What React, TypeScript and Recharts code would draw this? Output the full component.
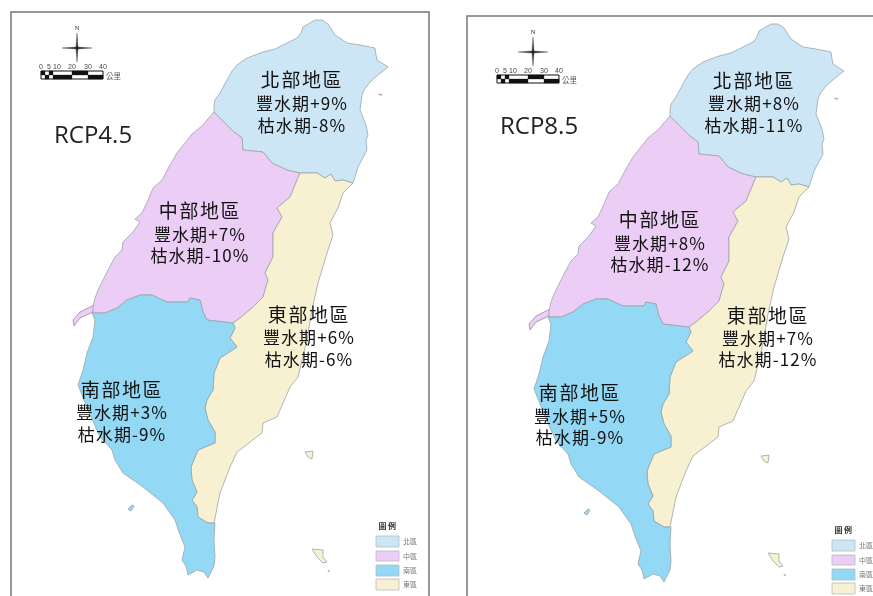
// Two RCP panels of the Taiwan water-resource map, each outline drawn as a
// Scatter whose joint line is closed into a filled polygon by the axis scales.
import { Scatter, ScatterChart, XAxis, YAxis } from "recharts"

type Pt = { x: number; y: number }
const pts = (list: number[][]): Pt[] => list.map(([x, y]) => ({ x, y }))

const NORTH_BORDER = [[300,173],[287,170],[272,163],[263,152],[243,150],[242,138],[234,132],[227,125],[214,112]]
const EAST_NORTH_BORDER = [[353,183],[343,180],[335,181],[331,174],[325,178],[317,173]]
const NORTH_COAST = [[214,106],[215,100],[220,93],[227,80],[232,71],[237,65],[247,58],[263,52],[275,49],[283,45],[297,38],[301,33],[303,27],[315,20],[322,20],[328,24],[335,35],[347,43],[360,45],[375,48],[376,55],[377,60],[388,67],[378,75],[370,82],[364,90],[362,95],[360,110],[366,125],[368,135],[366,140],[367,150],[358,167]]
const WEST_COAST_CENTRAL = [[207,120],[203,125],[192,134],[185,143],[177,153],[170,165],[162,180],[153,188],[149,198],[142,213],[135,219],[140,222],[133,232],[123,242],[122,250],[115,257],[108,270],[103,280],[98,290],[95,298],[93,307],[93,313]]
const CENTRAL_SOUTH_BORDER = [[105,313],[117,308],[127,300],[140,295],[152,295],[167,302],[188,302],[190,298],[200,300],[203,312],[207,320],[233,323]]
const CENTRAL_EAST_BORDER = [[240,318],[253,307],[263,297],[268,280],[265,273],[273,257],[273,233],[282,217],[277,208],[290,197]]
const EAST_COAST = [[343,193],[338,208],[330,223],[333,235],[327,253],[318,283],[312,310],[307,340],[298,377],[290,387],[277,417],[263,423],[262,433],[237,452],[230,467],[220,493],[214,523]]
const EAST_SOUTH_BORDER = [[208,523],[198,517],[197,507],[192,500],[197,492],[192,480],[191,467],[198,450],[215,443],[215,432],[208,420],[205,408],[207,400],[213,390],[214,373],[220,358],[237,347],[230,338],[235,328]]
const SOUTH_COAST = [[215,523],[214,540],[215,557],[214,566],[208,578],[204,572],[197,570],[188,575],[186,566],[182,560],[185,547],[179,532],[175,520],[163,503],[143,487],[123,473],[115,460],[112,450],[100,437],[88,410],[78,385],[83,370],[87,353],[93,337],[95,320],[92,313]]

const NORTH = pts([[214,112], ...NORTH_COAST, ...EAST_NORTH_BORDER, ...NORTH_BORDER])
const CENTRAL = pts([[214,112], ...WEST_COAST_CENTRAL, ...CENTRAL_SOUTH_BORDER, ...CENTRAL_EAST_BORDER, ...NORTH_BORDER])
const EAST = pts([[300,173], ...[...EAST_NORTH_BORDER].reverse(), ...EAST_COAST, ...EAST_SOUTH_BORDER, [233,323], ...CENTRAL_EAST_BORDER])
const SOUTH = pts([[93,313], ...CENTRAL_SOUTH_BORDER, ...[...EAST_SOUTH_BORDER].reverse(), ...SOUTH_COAST])
const PENINSULA = pts([[94,305],[80,312],[73,320],[74,326],[80,318],[93,312]])
const LIUQIU = pts([[128,509],[132,505],[134,506],[131,511]])
const GREEN_ISLAND = pts([[305,452],[313,451],[312,459],[308,457]])
const ORCHID_ISLAND = pts([[312,549],[323,550],[323,557],[327,562],[323,563],[317,557]])
const TINY_ISLETS = [pts([[378,94],[382,94],[381,96]]), pts([[328,570],[330,571],[328,572]])]

const FRAME = pts([[11,600],[11,12],[429,12],[429,600]])
const COMPASS = pts([[77,33],[78,47],[92,48],[78,49],[77,62],[76,49],[62,48],[76,47]])
const SCALE_DARK = [
  pts([[41,71],[45,71],[45,75],[41,75]]),
  pts([[49,71],[53,71],[53,75],[49,75]]),
  pts([[45,75],[49,75],[49,79],[45,79]]),
  pts([[53,75],[57,75],[57,79],[53,79]]),
  pts([[57,75],[72,75],[72,79],[57,79]]),
  pts([[72,71],[88,71],[88,75],[72,75]]),
  pts([[88,75],[103,75],[103,79],[88,79]]),
]
const SCALE_BOX = pts([[41,71],[103,71],[103,79],[41,79]])
const SCALE_TICKS = ["0", "5", "10", "20", "30", "40"]
const SCALE_TICK_X = [41, 49, 57, 72, 88, 103]

const REGIONS = ["北部地區", "中部地區", "東部地區", "南部地區"]
const LEGEND_NAMES = ["北區", "中區", "南區", "東區"]
const RCP45_WET = [9, 7, 6, 3]
const RCP45_DRY = [-8, -10, -6, -9]
const RCP85_WET = [8, 8, 7, 5]
const RCP85_DRY = [-11, -12, -12, -9]

const RCP45_ANCHORS = [[302,78,102,124],[200,209,233,254],[309,313,336,358],[122,388,411,433]]
const RCP85_ANCHORS = [[298,75,98,120],[204,214,238,259],[312,310,333,354],[124,387,411,432]]

const LEGEND_BOXES = [
  pts([[376,536],[399,536],[399,547],[376,547]]),
  pts([[376,551],[399,551],[399,561],[376,561]]),
  pts([[376,565],[399,565],[399,576],[376,576]]),
  pts([[376,579],[399,579],[399,590],[376,590]]),
]
const LEGEND_Y = [541, 556, 570, 584]

const COLOR = { north: "#cde6f6", central: "#ebcdf5", south: "#93d8f4", east: "#f7f1d2" }
const LEGEND_COLORS = [COLOR.north, COLOR.central, COLOR.south, COLOR.east]
const COAST = "#9aa5aa"
const CJK = "'Noto Sans CJK TC', sans-serif"

const polygon = (fill: string, stroke = COAST, strokeWidth = 0.8) => (p: any) => (
  <polygon
    points={p.points.map((q: Pt) => `${q.x},${q.y}`).join(" ")}
    fill={fill}
    stroke={stroke}
    strokeWidth={strokeWidth}
    strokeLinejoin="round"
  />
)
const openLine = (stroke: string, strokeWidth: number) => (p: any) => (
  <polyline
    points={p.points.map((q: Pt) => `${q.x},${q.y}`).join(" ")}
    fill="none"
    stroke={stroke}
    strokeWidth={strokeWidth}
  />
)
const noDot = () => null

const textShape = (p: any) => {
  const d = p.payload
  return (
    <text
      x={p.cx}
      y={p.cy}
      textAnchor={d.anchor ?? "middle"}
      dominantBaseline="central"
      fontFamily={d.font ?? CJK}
      fontSize={d.size}
      fill={d.color ?? "#111"}
      fontWeight={d.weight ?? 400}
      letterSpacing={d.spacing ?? 0}
    >
      {d.text}
    </text>
  )
}

function Shape({ data, line }: { data: Pt[]; line: any }) {
  return <Scatter data={data} line={line} lineType="joint" shape={noDot} isAnimationActive={false} legendType="none" />
}

function Panel({ left, top, title, titleX, titleY, wet, dry, anchors }: {
  left: number; top: number; title: string; titleX: number; titleY: number
  wet: number[]; dry: number[]; anchors: number[][]
}) {
  const labels = [
    { x: titleX, y: titleY, text: title, size: 24, anchor: "start", font: "'Open Sans', sans-serif", color: "#222" },
    ...REGIONS.flatMap((name, i) => {
      const [x, y0, y1, y2] = anchors[i]
      return [
        { x, y: y0, text: name, size: 19, spacing: 1.6 },
        { x, y: y1, text: `豐水期+${wet[i]}%`, size: 17, spacing: 1.1 },
        { x, y: y2, text: `枯水期${dry[i]}%`, size: 17, spacing: 1.1 },
      ]
    }),
  ]
  const furniture = [
    { x: 77, y: 28, text: "N", size: 7, font: "'Liberation Serif', serif", color: "#333" },
    ...SCALE_TICKS.map((t, i) => ({ x: SCALE_TICK_X[i], y: 66, text: t, size: 7, font: "'Liberation Sans', sans-serif", color: "#444" })),
    { x: 106, y: 75, text: "公里", size: 7.5, anchor: "start", color: "#555" },
    { x: 388, y: 525, text: "圖例", size: 8, weight: 700, spacing: 1.5, color: "#333" },
    ...LEGEND_NAMES.map((t, i) => ({ x: 403, y: LEGEND_Y[i], text: t, size: 7, anchor: "start", color: "#777" })),
  ]
  return (
    <div style={{ position: "absolute", left, top, width: 873, height: 596 }}>
      <ScatterChart width={873} height={596} margin={{ top: 0, right: 0, bottom: 0, left: 0 }}>
        <XAxis type="number" dataKey="x" domain={[0, 873]} hide allowDataOverflow />
        <YAxis type="number" dataKey="y" domain={[0, 596]} reversed hide allowDataOverflow />
        {Shape({ data: FRAME, line: openLine("#777", 1.5) })}
        {Shape({ data: PENINSULA, line: polygon("#ebcdf5", "#9a8aa0", 0.8) })}
        {Shape({ data: NORTH, line: polygon(COLOR.north) })}
        {Shape({ data: CENTRAL, line: polygon(COLOR.central) })}
        {Shape({ data: EAST, line: polygon(COLOR.east) })}
        {Shape({ data: SOUTH, line: polygon(COLOR.south) })}
        {Shape({ data: LIUQIU, line: polygon(COLOR.south) })}
        {Shape({ data: GREEN_ISLAND, line: polygon(COLOR.east) })}
        {Shape({ data: ORCHID_ISLAND, line: polygon(COLOR.east) })}
        {TINY_ISLETS.map((islet) => Shape({ data: islet, line: polygon("#bbb", "#aaa", 0.4) }))}
        {Shape({ data: COMPASS, line: polygon("#222", "#555", 0.4) })}
        {Shape({ data: SCALE_BOX, line: polygon("#fff", "#111", 1) })}
        {SCALE_DARK.map((cell) => Shape({ data: cell, line: polygon("#111", "#111", 0.3) }))}
        {LEGEND_BOXES.map((box, i) => Shape({ data: box, line: polygon(LEGEND_COLORS[i], "#b5bcc0", 0.8) }))}
        <Scatter data={furniture} shape={textShape} isAnimationActive={false} legendType="none" />
        <Scatter data={labels} shape={textShape} isAnimationActive={false} legendType="none" />
      </ScatterChart>
    </div>
  )
}

export default function App() {
  return (
    <div style={{ position: "fixed", left: 0, top: 0, width: 873, height: 596, overflow: "hidden", background: "#fff", filter: "blur(0.45px)" }}>
      <Panel left={0} top={0} title="RCP4.5" titleX={54} titleY={133} wet={RCP45_WET} dry={RCP45_DRY} anchors={RCP45_ANCHORS} />
      <Panel left={456} top={4} title="RCP8.5" titleX={44} titleY={120} wet={RCP85_WET} dry={RCP85_DRY} anchors={RCP85_ANCHORS} />
    </div>
  )
}
